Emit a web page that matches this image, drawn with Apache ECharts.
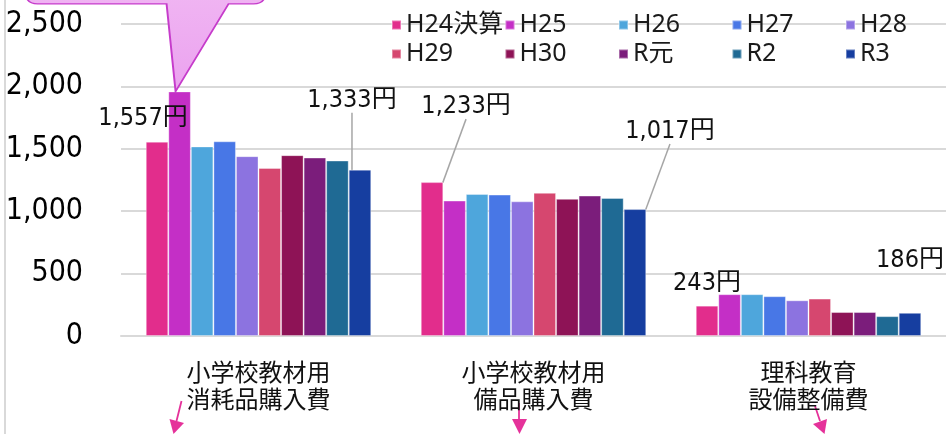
<!DOCTYPE html>
<html>
<head>
<meta charset="utf-8">
<script src="https://cdn.jsdelivr.net/npm/echarts@6/dist/echarts.min.js"></script>
<style>
html,body{margin:0;padding:0;background:#fff;}
#main{width:946px;height:434px;}
</style>
</head>
<body>
<div id="main"></div>
<script>
// ---- data ----
const categories = ['小学校教材用\n消耗品購入費', '小学校教材用\n備品購入費', '理科教育\n設備整備費'];
const seriesNames = ['H24決算', 'H25', 'H26', 'H27', 'H28', 'H29', 'H30', 'R元', 'R2', 'R3'];
const h24 = [1557, 1233, 243];
const h25 = [1960, 1085, 335];
const h26 = [1519, 1138, 335];
const h27 = [1560, 1133, 319];
const h28 = [1441, 1079, 286];
const h29 = [1346, 1147, 300];
const h30 = [1449, 1099, 192];
const rGan = [1430, 1125, 192];
const r2 = [1406, 1106, 159];
const r3 = [1333, 1017, 186];
const yTicks = [0, 500, 1000, 1500, 2000, 2500];

const allValues = [h24, h25, h26, h27, h28, h29, h30, rGan, r2, r3];
const colors = ['#E22D8C', '#C42FC6', '#4EA6DC', '#4877E6', '#8C73E0', '#D6476F', '#8E1356', '#7B1D7B', '#1F6A94', '#163EA0'];

const numFont = "'Liberation Sans Narrow', 'DejaVu Sans Condensed', 'Noto Sans CJK JP', sans-serif";
const cjkFont = "'Noto Sans CJK JP', sans-serif";

// label placement (offsets from default top position) and which get leader lines
const labelOffsets = {
  '0-0': [-14, -6, false],
  '9-0': [-8, -52, true],
  '0-1': [34, -58, true],
  '9-1': [35, -60, true],
  '0-2': [0, -5, false],
  '9-2': [0, -35, false]
};

function fmt(v) { return v.toLocaleString('en-US'); }

const series = seriesNames.map((name, si) => {
  const vals = allValues[si];
  const data = vals.map((v, di) => {
    const key = si + '-' + di;
    if (labelOffsets[key]) {
      return {
        value: v,
        label: { show: true, formatter: fmt(v) + '円' },
        labelLine: { show: labelOffsets[key][2] }
      };
    }
    return { value: v };
  });
  const s = {
    name: name,
    type: 'bar',
    barGap: '0%',
    barCategoryGap: '18%',
    data: data,
    itemStyle: { color: colors[si], borderColor: 'rgba(255,255,255,0.35)', borderWidth: 1 },
    label: {
      show: false,
      position: 'top',
      distance: 5,
      color: '#111',
      fontSize: 25,
      fontFamily: numFont
    },
    labelLine: { show: false, lineStyle: { color: '#A6A6A6', width: 1.5 } },
    labelLayout: function (p) {
      const o = labelOffsets[p.seriesIndex + '-' + p.dataIndex];
      if (!o) return {};
      return { dx: o[0], dy: o[1], hideOverlap: false };
    }
  };
  if (si === 1) {
    s.markPoint = {
      symbol: 'path://M -138 -142 L 78 -142 Q 90 -142 90 -130 L 90 -99.5 Q 90 -87.5 78 -87.5 L 53 -87.5 L 0 0 L -9 -87.5 L -138 -87.5 Q -150 -87.5 -150 -99.5 L -150 -130 Q -150 -142 -138 -142 Z',
      symbolSize: [240, 142],
      symbolOffset: [-34, -71],
      silent: true,
      label: { show: false },
      itemStyle: {
        color: new echarts.graphic.LinearGradient(0, 0, 0, 1, [
          { offset: 0, color: '#F2BDF4' },
          { offset: 1, color: '#EBA2EF' }
        ]),
        borderColor: '#C63CCB',
        borderWidth: 1.5
      },
      data: [{ coord: [0, h25[0]] }]
    };
  }
  return s;
});

// one legend per item so the 5-column grid spacing is fixed
const legendLefts = [391, 504.5, 618, 731.5, 845];
const legendTops = [11, 40];
const legends = seriesNames.map((name, i) => ({
  left: legendLefts[i % 5],
  top: legendTops[Math.floor(i / 5)],
  icon: 'rect',
  itemWidth: 9,
  itemHeight: 9,
  itemGap: 4,
  padding: 0,
  selectedMode: false,
  data: [name],
  textStyle: {
    fontSize: 25,
    lineHeight: 28,
    color: '#1a1a1a',
    fontFamily: "'Noto Sans', 'Noto Sans CJK JP', sans-serif"
  }
}));

const chart = echarts.init(document.getElementById('main'), null, { renderer: 'canvas' });

chart.setOption({
  animation: false,
  backgroundColor: '#fff',
  color: colors,
  legend: legends,
  grid: { left: 121, right: -3, top: 24, bottom: 98, containLabel: false },
  xAxis: {
    type: 'category',
    data: categories,
    axisTick: { show: false },
    axisLine: { show: true, lineStyle: { color: '#D9D9D9', width: 2 } },
    axisLabel: {
      interval: 0,
      margin: 22,
      fontSize: 24,
      lineHeight: 27,
      color: '#111',
      fontFamily: cjkFont
    }
  },
  yAxis: {
    type: 'value',
    min: yTicks[0],
    max: yTicks[yTicks.length - 1],
    interval: yTicks[1] - yTicks[0],
    axisLine: { show: false },
    axisTick: { show: false },
    splitLine: { lineStyle: { color: '#D9D9D9', width: 2 } },
    axisLabel: {
      margin: 38,
      fontSize: 30,
      color: '#000',
      fontFamily: numFont,
      formatter: v => fmt(v)
    }
  },
  graphic: [
    { type: 'line', silent: true, shape: { x1: 5, y1: 0, x2: 5, y2: 434 }, style: { stroke: '#D9D9D9', lineWidth: 2 } },
    // decorative pink arrows below category labels
    { type: 'line', silent: true, shape: { x1: 181.5, y1: 401, x2: 176.5, y2: 421 }, style: { stroke: '#E5329A', lineWidth: 1.8 } },
    { type: 'polygon', silent: true, shape: { points: [[173.5, 434], [169.5, 419], [184, 423]] }, style: { fill: '#E5329A' } },
    { type: 'line', silent: true, shape: { x1: 519, y1: 403, x2: 519, y2: 420 }, style: { stroke: '#E5329A', lineWidth: 1.8 } },
    { type: 'polygon', silent: true, shape: { points: [[519.5, 434], [512, 419], [527, 419]] }, style: { fill: '#E5329A' } },
    { type: 'line', silent: true, shape: { x1: 815, y1: 406, x2: 820, y2: 421 }, style: { stroke: '#E5329A', lineWidth: 1.8 } },
    { type: 'polygon', silent: true, shape: { points: [[824.5, 434], [813, 424], [827, 419]] }, style: { fill: '#E5329A' } }
  ],
  series: series
});
</script>
</body>
</html>
